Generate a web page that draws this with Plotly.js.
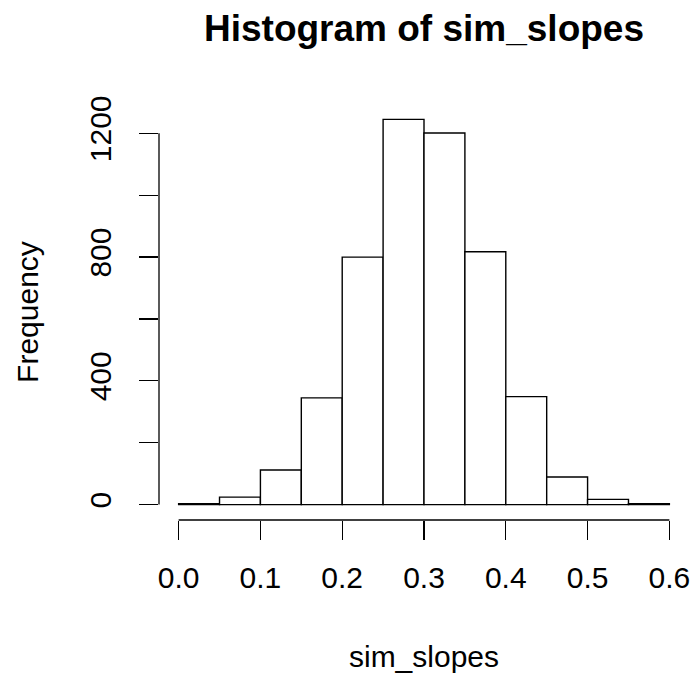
<!DOCTYPE html>
<html>
<head>
<meta charset="utf-8">
<script src="https://cdn.plot.ly/plotly-3.0.1.min.js"></script>
<style>html,body{margin:0;padding:0;background:#fff;}#chart{width:695px;height:673px;}</style>
</head>
<body>
<div id="chart"></div>
<script>
// Histogram bins (left edges) of sim_slopes, width 0.05
var binStarts = [0.00, 0.05, 0.10, 0.15, 0.20, 0.25, 0.30, 0.35, 0.40, 0.45, 0.50, 0.55];
var binWidth = 0.05;
var counts = [3, 24, 112, 345, 800, 1245, 1201, 817, 349, 89, 17, 3];

var xTicks = [0.0, 0.1, 0.2, 0.3, 0.4, 0.5, 0.6];
var xTickText = ["0.0", "0.1", "0.2", "0.3", "0.4", "0.5", "0.6"];
var yTicks = [0, 200, 400, 600, 800, 1000, 1200];
var yTickText = ["0", "", "400", "", "800", "", "1200"];

var mids = binStarts.map(function (s) { return s + binWidth / 2; });
var maxC = Math.max.apply(null, counts);
var xSpan = xTicks[xTicks.length - 1] - xTicks[0];
var xr = [xTicks[0] - 0.04 * xSpan, xTicks[xTicks.length - 1] + 0.04 * xSpan];
var yr = [-0.04 * maxC, 1.04 * maxC];

var FONT = "Liberation Sans, Arial, Helvetica, sans-serif";

var trace = {
  type: "bar",
  x: mids,
  y: counts,
  width: binStarts.map(function () { return binWidth; }),
  marker: { color: "#ffffff", line: { color: "#000000", width: 1.4 } },
  hoverinfo: "x+y"
};

var layout = {
  width: 695,
  height: 673,
  paper_bgcolor: "#ffffff",
  plot_bgcolor: "#ffffff",
  showlegend: false,
  font: { family: FONT, size: 30, color: "#000000" },
  margin: { l: 158.6, r: 5.6, t: 104.2, b: 153, pad: 0 },
  title: {
    text: "<b>Histogram of sim_slopes</b>",
    font: { family: FONT, size: 37, color: "#000000" },
    x: 0.5, xref: "paper", xanchor: "center",
    y: 0.958, yref: "container", yanchor: "middle"
  },
  xaxis: {
    range: xr,
    tickmode: "array",
    tickvals: xTicks,
    ticktext: xTickText,
    ticks: "outside",
    ticklen: 19,
    tickwidth: 1.3,
    tickcolor: "#000000",
    ticklabelstandoff: 12,
    showline: false,
    showgrid: false,
    zeroline: false,
    tickfont: { family: FONT, size: 30, color: "#000000" },
    title: { text: "sim_slopes", font: { family: FONT, size: 30, color: "#000000" }, standoff: 52 }
  },
  yaxis: {
    range: yr,
    tickmode: "array",
    tickvals: yTicks,
    ticktext: yTickText,
    tickangle: -90,
    ticks: "outside",
    ticklen: 19,
    tickwidth: 1.3,
    tickcolor: "#000000",
    ticklabelstandoff: 16,
    showline: false,
    showgrid: false,
    zeroline: false,
    tickfont: { family: FONT, size: 30, color: "#000000" },
    title: { text: "Frequency", font: { family: FONT, size: 30, color: "#000000" }, standoff: 36 }
  },
  shapes: [
    { type: "line", xref: "x", yref: "paper", x0: xTicks[0], x1: xTicks[xTicks.length - 1], y0: 0, y1: 0,
      line: { color: "#000000", width: 1.3 } },
    { type: "line", xref: "paper", yref: "y", x0: 0, x1: 0, y0: yTicks[0], y1: yTicks[yTicks.length - 1],
      line: { color: "#000000", width: 1.3 } }
  ]
};

Plotly.newPlot("chart", [trace], layout, { displayModeBar: false, staticPlot: true });
</script>
</body>
</html>
